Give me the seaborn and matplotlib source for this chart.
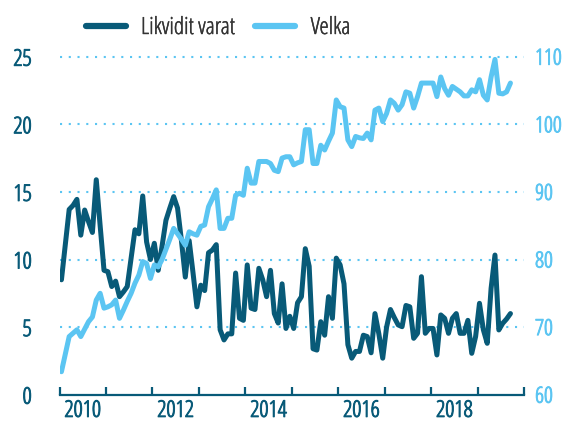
import matplotlib
matplotlib.use("Agg")
import os
import matplotlib.pyplot as plt
import matplotlib.patheffects as pe
from matplotlib import font_manager
from matplotlib.lines import Line2D
from matplotlib.ticker import FixedLocator, NullFormatter
import numpy as np
import pandas as pd
import seaborn as sns

# Monthly series starting January 2010
start_year = 2010
likvidit_varat = [
    8.5, 11.1, 13.7, 14.0, 14.45, 11.8, 13.66, 12.8, 12.0, 15.9,
    12.5, 9.2, 9.1, 8.0, 8.4, 7.25, 7.6, 8.0, 10.1, 12.2,
    11.9, 14.7, 11.3, 10.0, 11.2, 9.2, 11.0, 12.9, 13.8, 14.65,
    13.8, 11.4, 8.7, 11.4, 9.0, 6.5, 8.1, 7.7, 10.5, 10.7,
    11.1, 4.8, 4.05, 4.5, 4.5, 9.0, 5.65, 5.5, 9.6, 6.4,
    6.3, 9.35, 8.5, 7.25, 9.2, 6.0, 5.3, 8.2, 4.9, 5.8,
    4.9, 6.8, 7.25, 10.8, 9.5, 3.4, 3.3, 5.4, 4.4, 7.25,
    5.65, 10.1, 9.6, 8.2, 3.7, 2.7, 3.2, 3.2, 4.4, 4.3,
    3.1, 6.0, 4.5, 2.7, 5.0, 6.3, 5.7, 5.16, 5.03, 6.6,
    6.5, 4.17, 4.54, 8.73, 4.54, 4.9, 4.9, 2.94, 5.9, 5.65,
    4.54, 5.65, 6.0, 4.54, 4.54, 5.5, 3.06, 4.3, 6.76, 4.8,
    3.8, 7.87, 10.33, 4.79, 5.28, 5.6, 6.0,
]
velka = [
    63.4, 66.0, 68.6, 69.1, 69.6, 68.6, 69.7, 70.8, 71.5, 74.0,
    75.0, 72.8, 73.0, 73.3, 74.0, 71.3, 72.5, 73.8, 75.0, 76.5,
    77.7, 79.7, 79.4, 77.2, 79.2, 78.9, 80.0, 81.5, 83.0, 84.6,
    83.8, 83.0, 82.1, 84.1, 83.8, 83.6, 84.9, 85.1, 87.8, 89.0,
    90.3, 84.6, 84.6, 86.1, 86.1, 89.5, 89.8, 89.5, 93.5, 91.3,
    91.3, 94.5, 94.5, 94.5, 94.2, 93.2, 93.0, 95.0, 95.2, 95.2,
    94.0, 94.3, 94.5, 99.2, 99.2, 94.2, 94.2, 96.9, 96.2, 97.5,
    98.7, 103.6, 102.6, 102.4, 97.7, 96.7, 98.2, 98.0, 97.9, 98.7,
    97.7, 102.1, 102.4, 100.4, 101.6, 103.6, 103.1, 102.1, 102.9, 104.8,
    104.6, 102.4, 104.1, 106.1, 106.1, 106.1, 106.1, 104.1, 107.0, 105.3,
    104.3, 105.6, 105.2, 104.8, 104.2, 104.2, 105.1, 104.8, 106.6, 104.3,
    103.6, 107.0, 109.6, 104.6, 104.5, 104.8, 106.1,
]
year_ticks = list(range(2010, 2021))
year_labels = ["2010", "2012", "2014", "2016", "2018"]
left_ticks = [0, 5, 10, 15, 20, 25]
right_ticks = [60, 70, 80, 90, 100, 110]
series_names = ["Likvidit varat", "Velka"]

DARK = "#085a78"
LIGHT = "#5bc5f2"
TEXT = "#333333"

months = np.arange(len(likvidit_varat))
df = pd.DataFrame({
    "aika": start_year + (months + 0.5) / 12,
    "Likvidit varat": likvidit_varat,
    "Velka": velka,
})

sns.set_style("white")
plt.rcParams["font.family"] = ["DejaVu Sans"]


def narrow_font():
    """Pick a condensed sans face if one is installed."""
    fonts = font_manager.fontManager.ttflist
    prefs = [
        ("open", "condensed", "light"),
        ("open", "condensed", ""),
        ("roboto", "condensed", "light"),
        ("roboto", "condensed", ""),
        ("liberation", "narrow", ""),
        ("dejavu", "condensed", ""),
        ("", "condensed", ""),
        ("", "narrow", ""),
    ]
    for fam, word, extra in prefs:
        for f in fonts:
            base = os.path.basename(f.fname).lower().replace("_", "").replace("-", "")
            name = f.name.lower()
            if fam and fam not in base and fam not in name:
                continue
            is_narrow = word in base or word in name or (
                word == "condensed" and str(f.stretch) in ("condensed", "semi-condensed", "extra-condensed"))
            if not is_narrow:
                continue
            if "bold" in base or "italic" in base or "oblique" in base:
                continue
            if extra and extra not in base:
                continue
            if not extra and ("light" in base or "thin" in base):
                continue
            return f.fname
    return None


fpath = narrow_font()


def fp(size):
    if fpath:
        return font_manager.FontProperties(fname=fpath, size=size)
    return font_manager.FontProperties(family="DejaVu Sans", size=size * 0.85)


W, H = 564, 425
fig = plt.figure(figsize=(W / 100, H / 100), dpi=100)
x0, x1 = 59.5, 524.0
y_zero, y_25 = 394.7, 56.7
px_per_unit = (y_zero - y_25) / 25
top_val = 25.3
y_top = y_zero - top_val * px_per_unit
ax = fig.add_axes([x0 / W, (H - y_zero) / H, (x1 - x0) / W, (y_zero - y_top) / H])
ax2 = ax.twinx()

ax.set_xlim(2010, 2020)
ax.set_ylim(0, top_val)
ax2.set_ylim(60, 60 + top_val * 2)

# dotted horizontal guides
for v in left_ticks[1:]:
    ax.axhline(v, color=LIGHT, lw=1.5, dashes=(1.0, 3.2), zorder=0)

sns.lineplot(data=df, x="aika", y="Likvidit varat", ax=ax, color=DARK,
             lw=3.6, errorbar=None, legend=False)
sns.lineplot(data=df, x="aika", y="Velka", ax=ax2, color=LIGHT,
             lw=3.6, errorbar=None, legend=False)

for a in (ax, ax2):
    for s in ("top", "left", "right"):
        a.spines[s].set_visible(False)
    a.set_xlabel("")
    a.set_ylabel("")
    a.grid(False)
ax.spines["bottom"].set_color(DARK)
ax.spines["bottom"].set_linewidth(1.6)
ax2.spines["bottom"].set_visible(False)

# year boundaries as ticks, labels centred inside every other year
ax.xaxis.set_major_locator(FixedLocator(year_ticks))
ax.xaxis.set_major_formatter(NullFormatter())
ax.xaxis.set_minor_locator(FixedLocator([int(y) + 0.5 for y in year_labels]))
ax.set_xticklabels(year_labels, minor=True)
ax.tick_params(axis="x", which="major", direction="in", length=6, width=1.6,
               color=DARK, bottom=True)
ax.tick_params(axis="x", which="minor", length=0, pad=3, labelcolor=DARK)

ax.set_yticks(left_ticks)
ax.set_yticklabels([str(v) for v in left_ticks])
ax.tick_params(axis="y", length=0, pad=20, labelcolor=DARK, left=True)
ax2.set_yticks(right_ticks)
ax2.set_yticklabels([str(v) for v in right_ticks])
ax2.tick_params(axis="y", length=0, pad=8, labelcolor=LIGHT, right=True)

# slightly heavier strokes for the tick numerals
for lbl in ax.get_xticklabels(minor=True) + ax.get_yticklabels():
    lbl.set_fontproperties(fp(16.5))
    lbl.set_path_effects([pe.withStroke(linewidth=0.7, foreground=DARK)])
for lbl in ax2.get_yticklabels():
    lbl.set_fontproperties(fp(16))
    lbl.set_path_effects([pe.withStroke(linewidth=0.7, foreground=LIGHT)])
for lbl in ax.get_yticklabels():
    lbl.set_horizontalalignment("right")

handles = [Line2D([], [], color=DARK, lw=4.5), Line2D([], [], color=LIGHT, lw=4.5)]
leg = fig.legend(handles, series_names, loc="center", bbox_to_anchor=(218 / W, 1 - 28 / H),
                 ncol=2, frameon=False, handlelength=1.7, handletextpad=0.65,
                 columnspacing=0.85, prop=fp(17), labelcolor=TEXT)
for t in leg.get_texts():
    t.set_path_effects([pe.withStroke(linewidth=0.3, foreground=TEXT)])

fig.savefig("out.png", dpi=100)
